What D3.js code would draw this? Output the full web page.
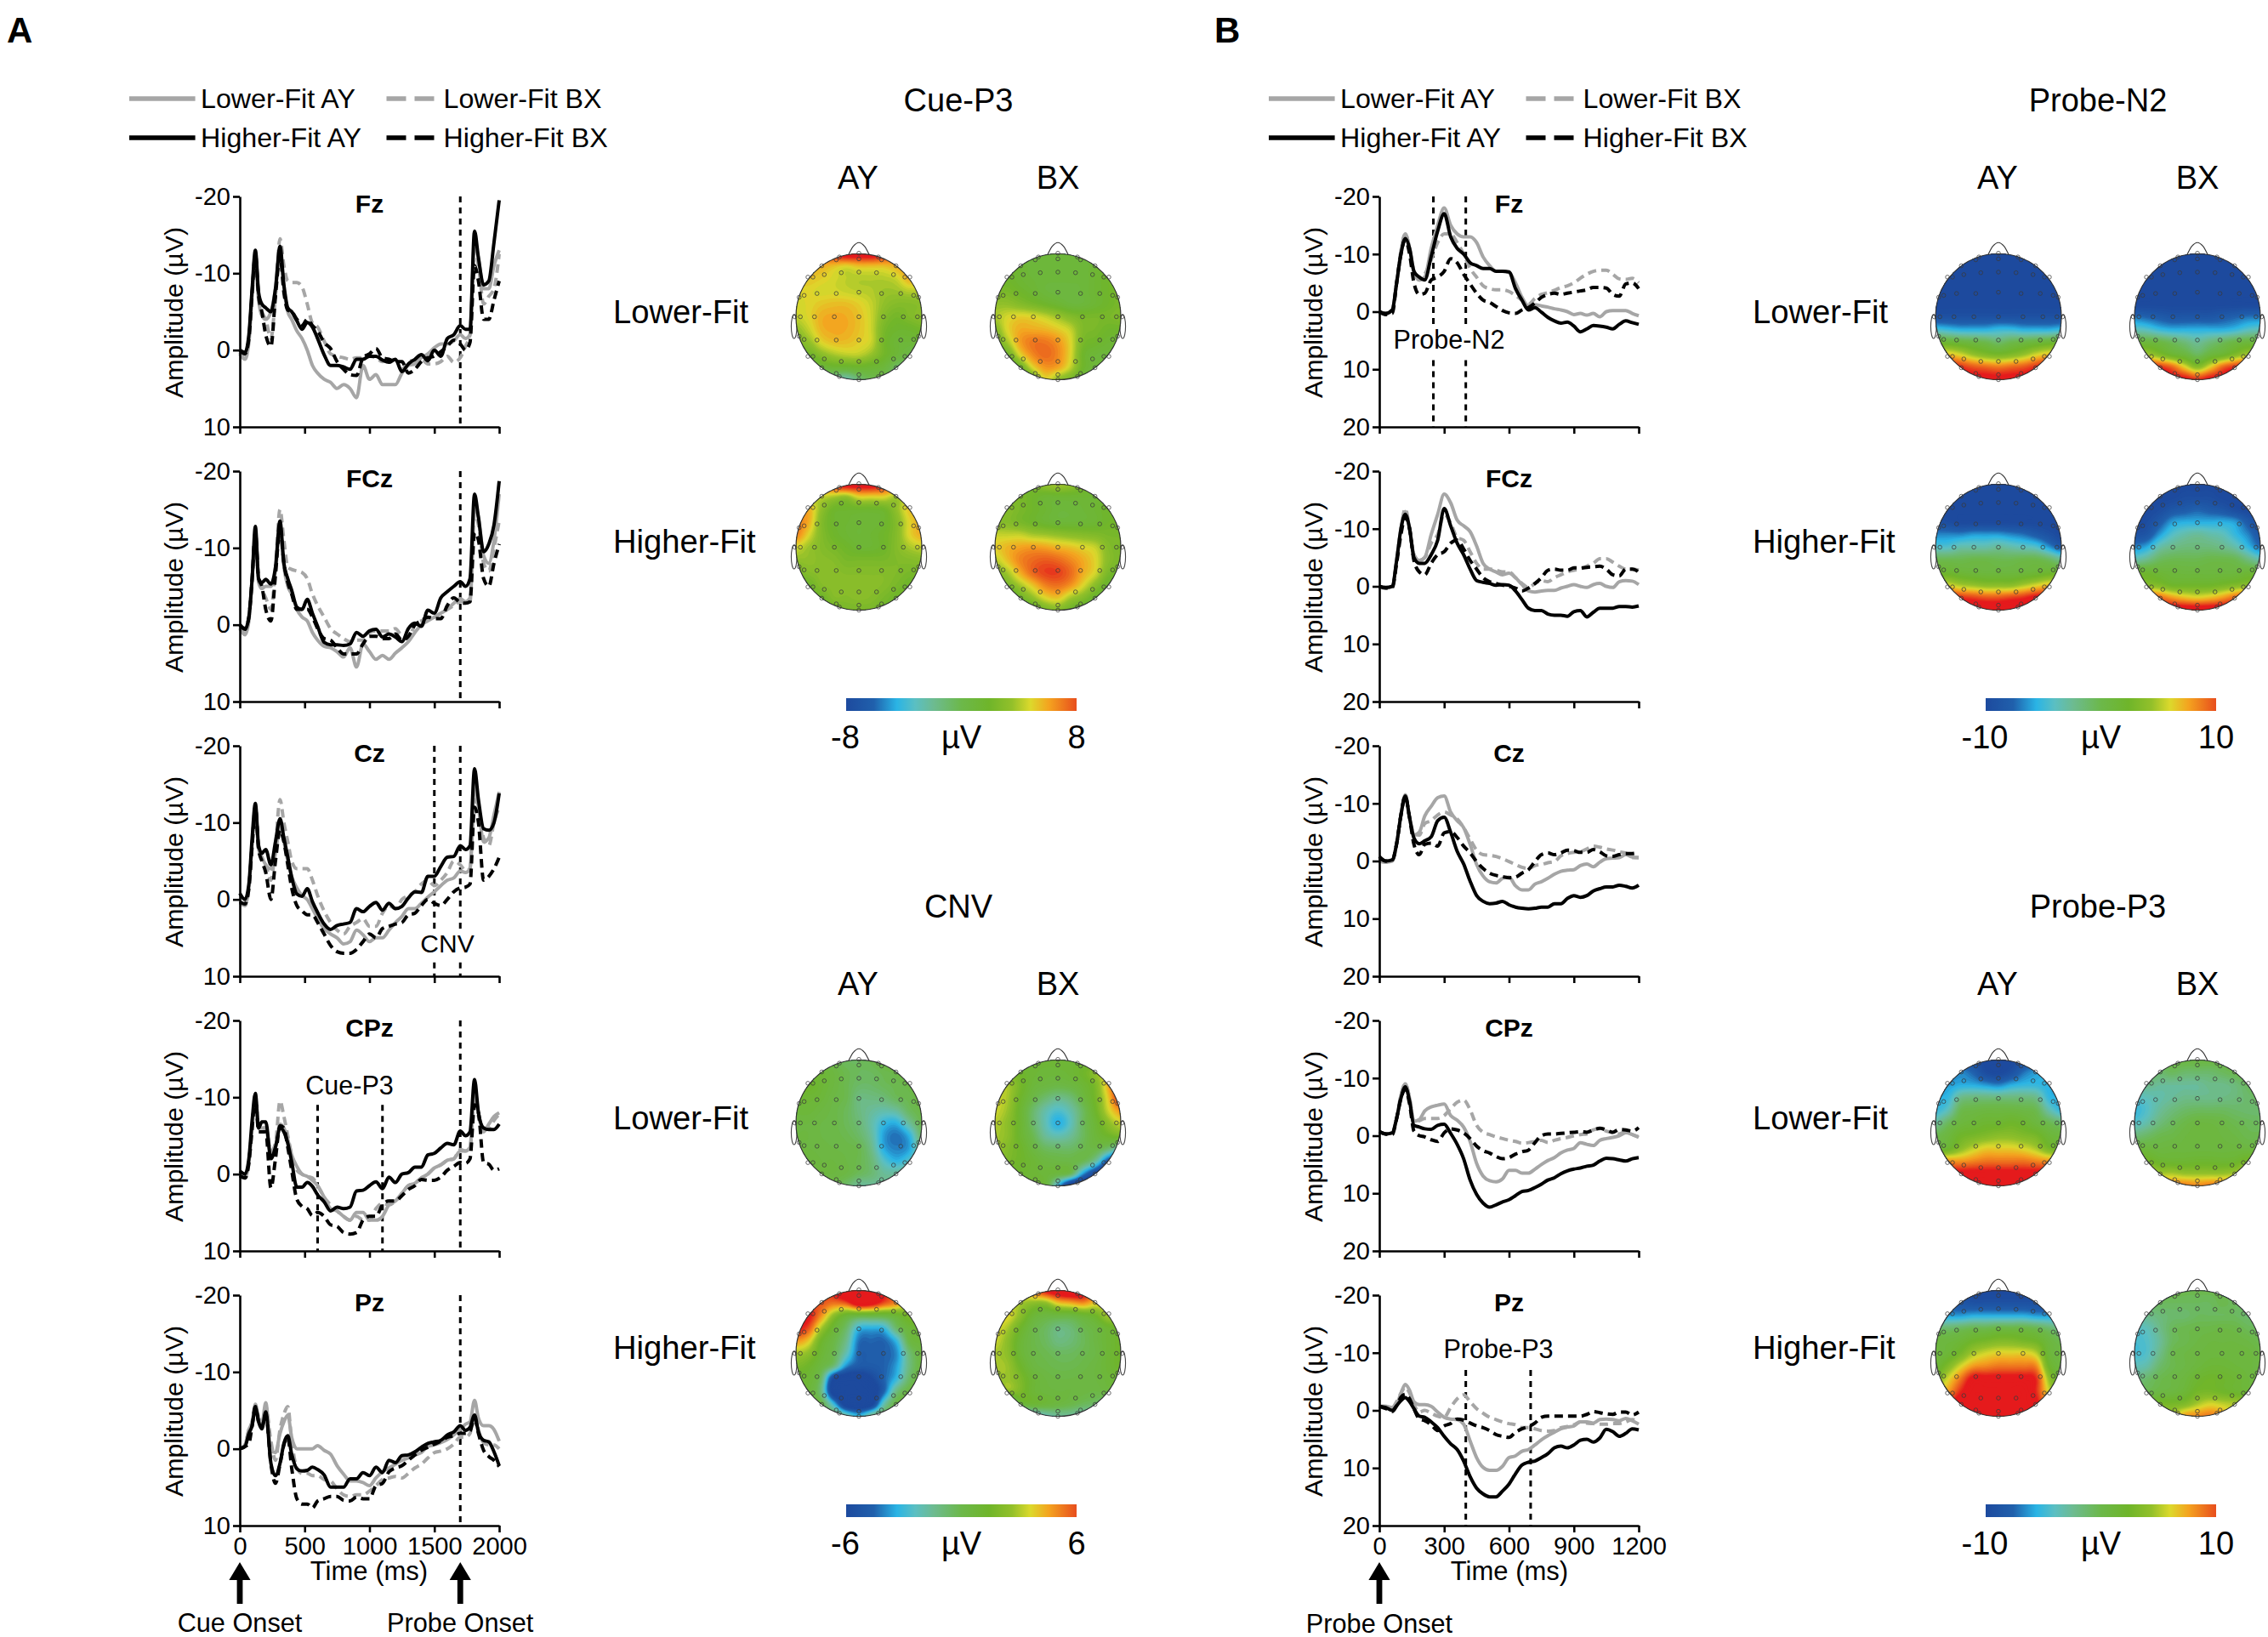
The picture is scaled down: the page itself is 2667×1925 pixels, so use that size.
<!DOCTYPE html>
<html>
<head>
<meta charset="utf-8">
<script src="https://cdn.jsdelivr.net/npm/d3@7/dist/d3.min.js"></script>
<style>
  body { margin: 0; background: #fff; }
  svg { display: block; }
  text { font-family: "Liberation Sans", Arial, sans-serif; fill: #000; }
  .axis path, .axis line { stroke: #000; stroke-width: 2.6; }
  .axis text { font-size: 29px; font-family: "Liberation Sans", Arial, sans-serif; }
</style>
</head>
<body>
<svg width="2667" height="1925"></svg>
<script>
"use strict";

// ---- waveform data (uV, negative up) ----
const cueTimes = [0,40,70,95,120,145,170,200,240,275,310,340,370,400,440,480,520,560,600,650,700,750,800,850,900,950,1000,1050,1100,1150,1200,1250,1300,1350,1400,1450,1500,1550,1600,1650,1700,1740,1775,1810,1840,1880,1920,1960,2000];
const probeTimes = [0,30,60,80,100,120,140,160,185,210,240,270,300,330,360,390,420,450,480,510,540,570,600,630,660,690,720,750,780,810,840,870,900,930,960,990,1020,1050,1080,1110,1140,1170,1200];

const cueFzLowerAY = [.5,1.2,-1,-7,-11.5,-6.5,-4.5,-4,-5,-8, -13,-8,-5,-4,-2.5,-1.5,0,2,3,3.8, 4.2,5,4.5,5,6.2,2,3.8,3.2,4.5,4.5, 4.5,3,2,1.8,1,.5,-.3,-.8,-.8,-1.2, -2,-1.5,-2,-14,-12,-8,-8,-11,-13];
const cueFzLowerBX = [.3,1,-1.5,-7.5,-12,-7,-5,-4,-1.5,-7, -14.5,-11,-9,-8.8,-8.8,-8.2,-6,-3.5,-3,-1.2, .5,.8,1,1.2,1,1,.8,1,1.5,1.2, 1.3,2.5,1.5,1.3,1.2,1.8,1.8,1.5,.8,1.6, 1,-.5,-2,-13,-11,-6,-7,-8,-12.5];
const cueFzHigherAY = [0,.3,-2,-8,-13,-7.5,-6,-5.5,-5,-8, -13.5,-8.5,-5.5,-5,-3.8,-2.7,-3.6,-3,-1.5,.6, 2,2,2.2,2.5,1.2,1.2,.8,.8,1.3,1.6, 1.2,2.8,1.8,1.2,.6,1.4,0,.8,-1.5,-2, -3.2,-2.7,-2.7,-15.5,-12,-8.5,-9,-14,-19.5];
const cueFzHigherBX = [0,.5,-1.5,-7.5,-12.5,-7,-5,-2,-.5,-7, -12.2,-7.5,-5.2,-5,-4,-3.2,-4,-3.2,-2.5,-1, -.2,1.5,2.5,3.2,3.3,1,.5,-.2,1,1.2, 1.5,1.5,3,2.5,1.5,1,.8,.2,-.5,-1.3, -.8,0,-1,-11,-9,-4,-4,-6.5,-9];

const cueFCzLowerAY = [.5,1.3,-.5,-6,-11.5,-5.5,-4.7,-5,-5,-7, -12.5,-7.5,-5,-4,-2,-1,-.5,1,2,2.8, 3,3.5,4.2,3,5.5,2.5,3.5,4.5,4,4.5, 3.7,3,2.2,1,0,-.5,-1,-1.5,-2,-2.8, -3.4,-3,-3.5,-15.5,-14,-9,-8,-11,-17];
const cueFCzLowerBX = [.3,1,-1,-6,-11.5,-6,-4.7,-3.5,-2,-7.5, -15,-11,-7.5,-7.2,-7,-6.8,-6,-4,-2.5,-1, .5,1.2,1.8,2.2,2,2,1,.8,.8,.8, .5,1.5,1.8,0,-.5,-.8,-1,-1.5,-2,-2.5, -3,-3,-3,-14.5,-13,-8,-7,-10,-13.5];
const cueFCzHigherAY = [0,.6,-1,-6,-12.8,-6,-5.5,-5.9,-5.3,-7.5, -13.5,-8,-6,-4.5,-2.3,-2,-3.3,-1.5,.2,2.3, 2.6,2.6,2.7,2.5,1,1.5,.8,.6,1.6,1.2, 1.6,2.2,.5,-.2,.2,-1.9,-1.5,-3.5,-4.3,-5, -5.6,-5,-6,-17,-14,-9.5,-10.5,-13,-18.7];
const cueFCzHigherBX = [0,.5,-1,-6,-12,-6,-5,-2,-.5,-6.5, -12.5,-8,-5.5,-4,-2,-2,-2,-1,.5,1.8, 2,3,3.8,3.8,3.8,2.5,1.5,1.5,1.8,1.8, 1.2,2,1.5,0,-.5,-1,-.8,-.8,-2.5,-3.5, -2.9,-2.8,-3,-12,-11,-6,-5,-8,-10.5];

const cueCzLowerAY = [.4,.6,-1.5,-7,-12,-6.5,-5.5,-4.5,-4,-6, -9.5,-7.5,-5,-3,-1.5,-.5,0,1.2,2.5,3.8, 4.5,5,5.8,5.5,4,4.6,5.5,5,5,4, 3,2.2,1.2,1.2,.5,-.3,-1,-1.8,-2.5,-2.8, -3.7,-3.5,-4,-15,-12,-7.5,-8,-11,-14];
const cueCzLowerBX = [.5,.8,-1.5,-7,-12,-6.5,-5.5,-4.5,-2.5,-7, -13,-10,-7.5,-5,-4,-4,-4,-2.5,-.5,1.5, 3,4,4.5,3.5,3,2.5,3.5,3.5,1.8,.8, 1.2,0,-.5,-1,-2,-2.5,-1.8,-2.5,-3.5,-5, -4.5,-3.8,-4,-13,-12,-8,-7,-10,-12];
const cueCzHigherAY = [-.8,0,-2,-8,-12.5,-7,-6,-6.5,-4.5,-7.5, -10.5,-8,-5.5,-2.9,-.7,-.4,-1.4,.3,1.7,3.2, 3.9,3.4,3.2,3,1.2,1.6,.9,.4,1.4,.5, 1.2,.9,-.2,-1,-.9,-3,-3,-4.3,-5.5,-5.6, -7,-6.5,-7,-17,-13,-9.2,-9,-10,-13.8];
const cueCzHigherBX = [.3,.6,-1.5,-7,-12,-6.5,-5,-3.5,0,-5, -9,-7.5,-4.5,-1.5,.8,1.5,2,2,3,4.5, 6,6.8,7,7,6.5,5.5,4.5,5,3.8,3.5, 3.2,3,2,1.8,.8,0,.5,.8,0,-1, -1.5,-1.6,-2,-12,-10,-2.5,-3,-4,-5.5];

const cueCPzLowerAY = [.2,.5,-1.5,-6,-10,-6,-6,-6,-2.5,-3.5, -6.5,-6,-4.5,-2.5,-1,0,.3,.8,1.5,3, 4.5,4.8,5.5,6,5,5,6,6,5.5,4, 3.5,2.5,1.5,1.2,.5,0,-.8,-1.2,-1.8,-2, -3,-3,-3.5,-11,-8,-5.5,-6.5,-7.5,-8];
const cueCPzLowerBX = [.2,.5,-1.5,-6,-10,-6,-6,-6,-3,-4, -9.5,-7.5,-5,-2.5,-.5,0,.3,.5,1.5,3, 4,4.8,5.5,6,5.5,6,6,4.5,3.8,4, 3.5,2.5,1.5,1.2,.5,0,-.8,-1.2,-1.8,-2, -3.2,-3,-3.3,-10,-7.5,-6,-6,-7,-7.8];
const cueCPzHigherAY = [-.4,0,-2,-7,-10.5,-6,-6.8,-6.8,-2,-3.5, -6,-5.5,-4,-1.6,1.7,1.7,1.1,1.6,2.7,3.6, 4.8,4.3,4.5,4.3,2.2,2.1,1.5,1,1.9,.4, 1.1,0,-.2,-.9,-.9,-2.5,-2.7,-3.4,-4,-3.8, -5.6,-5,-5.5,-12.3,-8,-6,-5.8,-5.8,-6.5];
const cueCPzHigherBX = [.2,.5,-1.5,-6,-10,-5.5,-5.5,-5.5,1.8,-2, -6.3,-6,-3.5,-.5,3.3,4.2,4.5,5.4,5,5.5, 6.6,6.8,7.6,7.8,7.6,6,5.5,5.5,4,3.5, 3.5,2.8,2,1.5,.7,.8,.8,.4,-.5,-1, -1.5,-1.4,-2,-9,-8,-1.5,-1.3,-.5,-.7];

const cuePzLowerAY = [0,-.5,-2.5,-3.5,-5.8,-4,-3.3,-6,.2,.5, -2,-3.5,-4.4,-1.5,0,0,0,0,-.4,.2, .7,2.2,3.3,4.2,4.2,4.4,4.8,3.8,3,2.5, 2,1.5,1.2,.8,.5,-.3,-.5,-.8,-1.2,-1.8, -2.5,-3.2,-3.5,-6.3,-4,-3,-3,-2.5,-1];
const cuePzLowerBX = [0,-.5,-2.5,-3.5,-5.5,-4,-3,-5.5,-1,1.5, -2.5,-4.5,-5.5,-1,2.5,3.2,3.2,3.5,3.5,4, 4.2,5.2,6,6.2,6,6,5.5,4.8,4,3.8, 3.6,3.8,3.2,2.5,2,1.2,.5,.3,0,-.6, -1.5,-1.5,-2,-4.8,-2.5,-.8,-.5,-.5,0];
const cuePzHigherAY = [0,-.3,-2,-3,-5.4,-3.5,-2.6,-4.8,1.9,3.5, 1.9,-.7,-1.7,.7,2.6,2.9,2.8,2.4,2.7,3.4, 5,5,5,3.9,3.9,3.1,3.5,2.4,3.1,1.5, 1.8,.9,.8,.4,-.2,-.7,-.9,-1.1,-1.8,-2.2, -3,-2.4,-2.8,-4.4,-2.2,-1.1,-.9,.4,2.2];
const cuePzHigherBX = [0,-.3,-.7,-3,-5.5,-3.5,-2.8,-4.5,2,4.5, 2,-.5,-1.5,2.5,6.5,7.2,7.2,7.7,6.8,6.5, 6.2,6.2,6.7,6.8,6.3,6.5,6.5,4.8,4.5,3, 2.5,2.2,1.5,.8,.2,-.2,-.6,-1,-1.5,-1.7, -2,-2,-2.3,-4,-2,.2,1,1.5,2.3];

const probeFzLowerAY = [0,.4,-.3,-5,-10.5,-13.5,-11,-7,-5.5,-6, -11,-15,-18,-15,-13.5, -13,-13,-12,-9.5,-8, -7,-7,-6.8,-5,-2.5, -1,-1.2,-1,-.8,-.5, -.3,0,.5,.3,.6, .3,.9,0,-.2,-.2, -.2,.3,.7];
const probeFzLowerBX = [0,.3,-.3,-5,-10.5,-13.5,-11,-7,-5.5,-6.5, -9,-12,-13.5,-13.5,-12, -10,-7.5,-6,-4.5,-4, -3.8,-3.8,-3.5,-2.8,-2, -1.3,-2.3,-3,-3.3,-3.7, -4.2,-4.5,-5,-5.8,-6.5, -7,-7.2,-7.2,-6.5,-5.7, -5.6,-5.8,-5];
const probeFzHigherAY = [0,.3,-.3,-5,-10,-12.7,-11,-7,-6,-5.5, -9.6,-14,-17,-13,-11, -10,-8.5,-8,-7.5,-7.5, -7,-7,-6.9,-4,-2, -.3,-.7,.1,1,1.6, 2,1.8,2.5,3.5,3, 2.4,2.5,2.7,3,2.2, 1.6,1.9,2.2];
const probeFzHigherBX = [0,.5,.3,-5,-10,-12.5,-10,-5,-3,-3.2, -5.5,-6,-7,-9.2,-8.5, -6.5,-4.8,-3.2,-2,-1.6, -.9,-.2,.2,.3,-.3, -.7,-1.5,-2.5,-3,-3.2, -3,-3.2,-3.4,-3.6,-3.8, -4.2,-4.2,-4.1,-3,-2.7, -4.8,-5,-4];

const probeFCzLowerAY = [.2,.3,0,-4.5,-10,-13,-10,-5.5,-4.5,-5, -9,-12.5,-16,-14.5,-11.5, -10.5,-9.5,-7,-4,-3, -2.5,-2,-2.3,-1.5,-.3, .8,1,.8,.7,.7, .3,0,-.3,0,.2, -.3,-.5,0,.2,-.8, -1,-.9,-.3];
const probeFCzLowerBX = [.2,.3,0,-4.5,-10,-13.5,-10,-5.5,-4.5,-5, -7.5,-9,-12.5,-11,-8.5, -8,-6,-4,-3,-3, -2.8,-2.5,-2.5,-1.5,-.5, .2,-.5,-1,-.8,-1.5, -2,-2.5,-2.8,-3,-3.5, -4,-4.8,-4.8,-4.2,-3.5, -3,-3,-2.8];
const probeFCzHigherAY = [0,.2,0,-4.5,-10,-12.5,-10,-5,-4,-4, -5.5,-8,-13.5,-10.5,-7.5, -5.5,-3,-1,-.7,-.5, -.2,-.3,-.2,.8,2.3, 3.8,4.2,4.2,4.8,5, 5,5.2,4.4,4.2,5.3, 4.5,3.8,3.8,3.8,3.5, 3.5,3.6,3.4];
const probeFCzHigherBX = [0,.3,.2,-4,-9,-12,-10,-4.5,-2.5,-2, -4,-5.5,-6,-7.5,-8, -6.5,-4.5,-3,-1.5,-.8, -.5,-.2,0,.3,.8, .3,-.5,-1.5,-2.8,-3, -2.8,-2.8,-3.2,-3.2,-3.3, -3.4,-3.5,-3,-2,-1.8, -3,-3,-2.5];

const probeCzLowerAY = [0,.2,0,-3,-8,-11.5,-7.5,-4.5,-5,-7.8, -9.5,-11,-11.3,-8.5,-7, -5.8,-2.9,.6,2.6,3.6, 3.8,3,2.8,4.3,5, 5,4,3.6,3,2.3, 1.8,1.6,1.5,.8,.5, 1,.2,-.4,-.5,-.6, -1.1,-.7,-.6];
const probeCzLowerBX = [0,.2,0,-3,-8,-11.5,-7.5,-4.8,-4.5,-6.5, -7,-8,-8.5,-8,-7.3, -5.8,-3.8,-1.9,-1.1,-1, -.8,-.4,.1,.6,1.1, 1.3,.8,.6,.3,.1, -.9,-1.3,-1.5,-1.6,-2.1, -2.6,-2.4,-2.1,-1.9,-1.6, -1.4,-.6,-.6];
const probeCzHigherAY = [-.8,0,-.2,-3,-8,-11.3,-7.5,-4,-3,-3.5, -4.2,-7,-7.6,-5,-1.7, .5,3.5,6,7,7.4, 7.3,7,7.6,8,8.2, 8.3,8.2,8,8,7.4, 7.4,6.5,6,6.3,6, 5.2,4.8,4.5,4.5,4.2, 4.4,4.7,4.2];
const probeCzHigherBX = [-.6,0,-.2,-3,-8,-11.2,-7.5,-2.9,-1.1,-2.9, -3.1,-2.6,-4.9,-5.1,-4.1, -2.6,-1.4,.1,1.3,2.1, 2.5,2.7,2.9,2.8,2.1, 1.5,.1,-1.1,-1.4,-1.1, -1.4,-1.9,-1.8,-1.5,-1.5, -2,-1.6,-.9,-.8,-1.1, -1.3,-1.3,-1.5];

const probeCPzLowerAY = [-.7,-.3,-.5,-3,-7,-9,-6.5,-2.5,-2.8,-4.3, -5,-5.3,-5.5,-3.5,-2.7, -1.5,1,4.8,7,7.8, 8,7.5,6,6,6.5, 6.5,5.8,5,4.3,3.8, 3,2.5,2.2,1.2,1.5, 1.7,.8,.5,.3,0, -.5,-.2,.3];
const probeCPzLowerBX = [-.7,-.3,-.5,-3,-7,-9,-6.5,-2.3,-2.6,-3, -3,-3,-3.5,-4.7,-5.8, -6.2,-4.5,-1.8,-.6,-.2, .2,.5,.8,1,1.3, 1.2,1,.8,1.2,.8, .5,.3,0,-.2,-.3, -1,-1.2,-.8,-.5,-.3, -.7,-.2,.2];
const probeCPzHigherAY = [-.7,-.3,-.5,-3,-6.5,-8.5,-6,-1.8,-1.5,-1.2, -1.1,-1.8,-2,-.4,1.5, 4,7.7,10.2,11.7,12.4, 12,11.5,11.1,10.4,9.7, 9.5,9,8.4,7.7,7.3, 6.6,6.1,5.8,5.6,5.3, 5.1,4.4,3.9,4,4.2, 4.4,4,3.8];
const probeCPzHigherBX = [-.7,-.3,-.2,-3,-6.5,-8,-5.5,-.8,0,.2, .7,1,-.5,-1.2,-1, -.5,.5,1.8,2.6,3, 3.6,4,3.8,3.2,2.8, 2.5,1.2,0,-.3,-.3, -.4,-.5,-.6,-.7,-.6, -1,-1.3,-1,-.6,-1.1, -1,-.8,-1.4];

const probePzLowerAY = [-.7,-.7,-.5,-1,-3,-4.5,-3.5,-1.5,-1,-1, -.7,.3,1.2,1.5,1.6, 2.4,5.3,8.2,9.9,10.4, 10.4,9.7,8.2,7.9,7.1, 6.8,6,5.1,4.4,3.8, 3.2,2.9,2.7,2,2, 2.2,1.6,1.5,1.6,1.8, 1.4,1.8,2.4];
const probePzLowerBX = [-.7,-.7,-.5,-1.5,-3,-4,-3,-1,.3,0, .5,1,1.2,-.5,-2, -2.7,-1.5,-.3,.5,1.2, 1.6,2,2.3,2.5,3, 3,3.2,3.5,3.6,3.5, 3,2.8,2.5,2,2.2, 2.3,2.4,2.4,2.3,2.3, 2,1.6,2];
const probePzHigherAY = [-.7,-.5,0,-.8,-1.7,-2.2,-1.5,-.3,1,1.2, 2,3,4.5,5.8,6.8, 8.8,11.5,13.5,14.5,15, 15,14,12.8,11,9.5, 9,8.8,8.2,7.5,6.5, 6.2,6.5,6,5.2,5, 5.5,4.8,3.3,3.7,4.5, 4,3.2,3.4];
const probePzHigherBX = [-.7,-.3,.2,-.8,-2.3,-2.8,-2,-.3,1.5,1.8, 2.5,3.5,2.7,2.3,1.5, 1.7,2.2,2.7,3,3.5, 4.2,4.5,4.7,3.8,3.2, 2.8,2.2,1.2,1,1, 1,1,1,1,.7, .2,.4,.6,.7,.3, .3,.8,.3];

const channels = ["Fz", "FCz", "Cz", "CPz", "Pz"];
const conditionNames = ["Lower-Fit AY", "Lower-Fit BX", "Higher-Fit AY", "Higher-Fit BX"];
const cueSeries = [
  [cueFzLowerAY, cueFzLowerBX, cueFzHigherAY, cueFzHigherBX],
  [cueFCzLowerAY, cueFCzLowerBX, cueFCzHigherAY, cueFCzHigherBX],
  [cueCzLowerAY, cueCzLowerBX, cueCzHigherAY, cueCzHigherBX],
  [cueCPzLowerAY, cueCPzLowerBX, cueCPzHigherAY, cueCPzHigherBX],
  [cuePzLowerAY, cuePzLowerBX, cuePzHigherAY, cuePzHigherBX]
];
const probeSeries = [
  [probeFzLowerAY, probeFzLowerBX, probeFzHigherAY, probeFzHigherBX],
  [probeFCzLowerAY, probeFCzLowerBX, probeFCzHigherAY, probeFCzHigherBX],
  [probeCzLowerAY, probeCzLowerBX, probeCzHigherAY, probeCzHigherBX],
  [probeCPzLowerAY, probeCPzLowerBX, probeCPzHigherAY, probeCPzHigherBX],
  [probePzLowerAY, probePzLowerBX, probePzHigherAY, probePzHigherBX]
];

// window markers per channel: [time, from uV, to uV]
const cueMarkers = [
  [[1700, -20, 10]],
  [[1700, -20, 10]],
  [[1500, -20, 3.9], [1500, 8.2, 10], [1700, -20, 3.9], [1700, 8.2, 10]],
  [[600, -9, 10], [1100, -9, 10], [1700, -20, 10]],
  [[1700, -20, 10]]
];
const probeMarkers = [
  [[250, -20, 2.8], [250, 8.4, 20], [400, -20, 2.8], [400, 8.4, 20]],
  [],
  [],
  [],
  [[400, -7, 20], [700, -7, 20]]
];

// ---- topographies: 11 x 11 samples top to bottom, left to right, in uV ----
const cueP3LowerAY = [
  [8,8,8,9,10,10,10,9,8,8,8],
  [6,6,6,5.5,5,5.5,5.5,5.5,6,7,7],
  [5.5,5.5,5.2,4.8,4.4,4.2,4.2,4.2,4.6,6,6],
  [5,5,4.8,4.8,4.6,4.4,4.2,3.8,3.8,4.2,4.2],
  [4.8,5,5.4,5.6,5.6,5.2,4.5,3.5,3,3,3.2],
  [4.5,5,5.9,6.1,6,5.5,4.6,3,2.3,2.8,3.2],
  [3.5,4.5,5.8,6.1,6,5.5,4.6,2.5,1.8,1.8,2.2],
  [2.8,3.5,5,5.6,5.6,5.2,4.6,2.3,1.3,1.2,1.2],
  [1.8,2,3.2,4,4.4,4.4,3.6,2.2,1.2,.3,0],
  [0,0,1,1.5,1.5,1.8,1.5,1,-.5,-1,-1],
  [-2,-2,-2,-2,-2.5,-1,0,0,-1,-2,-2]
];
const cueP3LowerBX = [
  [1,1,1,1,1,1,1,1,1,1,1],
  [2,2,1.5,1,1,1,1,1,1.5,2,2],
  [2,2,1.5,1.2,1,1,1,1,1.5,2,2],
  [2.5,2.5,2,1.5,1,.8,.8,1,1.5,2,2.5],
  [3.5,3.5,3,2.5,2,1.5,1,1,1.5,2,2.5],
  [4,4.8,5.2,5,4.5,3.8,3,2.5,2.5,2.5,2.8],
  [3,5,6,6,5.8,5.3,4.5,2.8,2.5,2,2],
  [2,4,6.3,7.2,7.2,6.5,5,2.5,2,1.5,1.5],
  [1,2,5,6.8,7.5,6.8,5,2,1.2,1,1],
  [0,0,2,5,6.5,6.2,4.5,2,1,.5,0],
  [-1,-1,0,2,5,3.5,2.5,1,0,-1,-1]
];
const cueP3HigherAY = [
  [8,8,8,9,10,10,10,9,8,8,8],
  [4.5,4.5,4.5,4,3.5,5,5,5,4,5.5,5.5],
  [6,6,3.5,2,1.8,1.8,1.8,2,3.5,5.5,6],
  [7,6,3,1.8,1.5,1.3,1.3,1.7,3,5,6],
  [7,5,3,2,1.5,1.2,1.5,2,3,5,6],
  [4.8,3.8,3,2.5,2,1.5,1.5,2,3,4,4.5],
  [3.5,3.5,3.2,3,2.5,2.5,2.5,2.5,2.8,3,3.2],
  [2.5,3,3.2,3.2,3,3,3,3,2.8,2.5,2.5],
  [2,2,3,3.2,3.3,3.3,3.2,3,2.5,2,2],
  [2,2,2,3,3,3.2,3,2.5,2,2,2],
  [2,2,2,2,2.5,2.5,2.5,2,2,2,2]
];
const cueP3HigherBX = [
  [2,2,2,2.5,3.5,4,3.5,2.5,2,2,2],
  [2.5,2.5,2.5,2,1.5,1.5,1.5,1.5,1.5,2,2],
  [3,3,2.5,2,1.5,1,1,1.2,1.5,2,2],
  [3,3,2.5,2,1.5,1.2,1.2,1.3,1.5,2,2],
  [4.5,4.5,4.5,4,3.8,3.5,3.2,3,2.8,2.5,2.5],
  [5.2,5.8,6.2,6.4,6.2,5.8,5.5,5,4.5,3,2.5],
  [4.3,5.6,6.9,7.5,7.8,7.5,6.8,6,5,3.2,2.5],
  [2.8,4,6,7.6,8.4,8.4,7.5,6,4.8,2.6,2],
  [1.2,2.5,4,5.5,7,7.4,6.6,5,3.2,1.5,1],
  [0,0,2,3.5,5,5.5,4,3,1.5,.5,0],
  [-1,-1,0,1,2.5,3,2,1,0,-1,-1]
];

const cnvLowerAY = [
  [.5,.5,.5,0,-.3,-.3,0,.5,.5,.5,.5],
  [1,1,1,.5,0,-.3,-.3,0,.2,.5,.5],
  [1.5,1.5,1,.5,0,-.5,-.5,-.2,0,.2,.5],
  [1,1,.8,.3,0,-1,-1,-.8,-.2,0,.3],
  [.8,.8,.5,.2,-.2,-1,-1.5,-1.8,-1.5,-.3,.2],
  [.5,.5,.3,.2,-.2,-.8,-1.8,-3,-3.2,-1.5,0],
  [.5,.5,.3,.2,0,-.5,-1.6,-3.6,-4.2,-3.2,-.5],
  [.5,.5,.4,.3,.2,0,-1.2,-3.4,-4,-3.5,-1],
  [.7,.7,.5,.5,.3,0,-.8,-2.4,-3.2,-2.4,-1],
  [.5,.5,.5,.5,.3,-.2,-.7,-1.5,-1.5,-1,-1],
  [.5,.5,.3,.2,-.5,-1.5,-1.5,-1.5,-1,-1,-1]
];
const cnvLowerBX = [
  [1,1,1,1,1,1,1,1,1,3,4],
  [2,2,1.5,1,.8,.8,1,1.5,2.5,4,6],
  [3,3,1.8,.8,.5,.3,.5,1,2,4.5,7],
  [3.5,3,1.5,.3,-.6,-1.2,-.8,.5,1.8,4,7],
  [3.5,2.8,1.2,-.5,-1.8,-2.5,-1.8,-.3,1.5,3.5,5],
  [3.2,2.5,1.2,-.5,-2,-3.3,-2.2,-.3,1,2.5,3.5],
  [3,2.5,1.2,0,-1.5,-2,-1.5,-.3,.8,1.5,2],
  [3,2.2,1.5,.5,-.3,-.5,-.5,0,.3,-.5,-2],
  [2.5,2,1.5,1,.5,.3,.2,0,-1.5,-5,-7],
  [2,1.5,1.2,1,.8,.6,0,-3.5,-6,-8,-8],
  [1.5,1.5,1,1,.8,-3,-7,-8,-8,-8,-8]
];
const cnvHigherAY = [
  [5,5,6,7,9,10,9,7,5,5,5],
  [6,6,6,5.5,6,8,7.5,6,5,3,3],
  [7,7,5,2.5,1,.5,.5,.5,1,2,2.5],
  [7,6,3,1,-.5,-3,-3.3,-3,-.5,.8,1],
  [5,4,1.5,.3,-1.2,-4.2,-4.4,-4.4,-3,.3,.8],
  [3,2.5,1,0,-2,-4.5,-4.6,-4.5,-3.8,-.8,.5],
  [2,1.5,.5,-.8,-3.8,-4.8,-4.8,-4.5,-3.5,-1,.5],
  [1,1,-.5,-6,-7,-7,-6,-4.5,-3,-.5,.5],
  [.8,.8,-1,-7,-7.5,-7.5,-7,-4.5,-1,.3,.5],
  [.5,.5,.2,-3,-7,-7.5,-6.5,-2,.3,.5,.5],
  [0,0,0,0,-1.5,-3,-1,0,.3,.5,.5]
];
const cnvHigherBX = [
  [3,3,4,5.5,7,8,8.5,8,6,5,4],
  [3.5,3.5,3,2.5,2.5,4,4.5,5,4,4,4],
  [3.8,3.8,2.5,1,.5,.5,.5,1,1.5,3,3],
  [3.8,3,1.5,.3,-.3,-1,-.8,0,.5,1.2,1.5],
  [3.5,2.5,1,.2,-.3,-1,-.8,-.2,.4,1,1.5],
  [3,2.5,1,.3,0,-.3,-.3,0,.3,1,1.5],
  [3,2.8,1.5,.5,.2,0,0,.2,.5,1,1.5],
  [2.5,2.8,2,1,.5,.3,.3,.4,.5,.8,1],
  [1,2.5,2,1,.6,.5,.5,.4,.3,.5,.5],
  [-3,-3,.5,1,.8,.5,.2,-.2,-.5,-1,-1],
  [-5,-5,-5,-3,-2,-1.5,-1.5,-2,-2,-2,-2]
];

const probeN2LowerAY = [
  [-10,-10,-10,-10,-10,-10,-10,-10,-10,-10,-10],
  [-10,-10,-10,-10,-10,-10,-10,-10,-10,-10,-10],
  [-10,-10,-10,-10,-10,-10,-10,-10,-10,-10,-10],
  [-10,-10,-10,-10,-10,-10,-10,-10,-10,-10,-10],
  [-10,-10,-10,-10,-10,-10,-10,-10,-10,-10,-10],
  [-9,-9,-9,-9,-9,-9,-9,-9,-9,-9,-9],
  [-4.5,-5,-5.5,-5.5,-5.5,-5,-5,-5.5,-5.5,-5.5,-5],
  [2,1.5,1,.5,0,-1,0,.5,1,1.5,2],
  [7,7,6,4.5,3.5,3,3.5,4.5,6,7,7],
  [12,12,11,10,9.5,9,9.5,10,11,12,12],
  [12,12,12,12,12,12,12,12,12,12,12]
];
const probeN2LowerBX = [
  [-10,-10,-10,-10,-10,-10,-10,-10,-10,-10,-10],
  [-10,-10,-10,-10,-10,-10,-10,-10,-10,-10,-10],
  [-10,-10,-10,-10,-10,-10,-10,-10,-10,-10,-10],
  [-10,-10,-10,-10,-10,-10,-10,-10,-10,-10,-10],
  [-10,-10,-10,-10,-10,-10,-10,-10,-10,-10,-10],
  [-7,-7.5,-8,-8.5,-8.5,-8.5,-8.5,-8,-7.5,-7,-7],
  [-3.5,-4,-5,-5.5,-5.5,-5.5,-5.5,-5.5,-5,-4,-3.5],
  [1,1,.5,-.5,-1.5,-2.5,-1.5,-.5,.5,1,1],
  [5,5,3.5,2,1,-.5,1,2,3.5,5,5],
  [12,12,11,9.5,6.5,4,6.5,9.5,11,12,12],
  [13,13,13,12,12,11,12,12,13,13,13]
];
const probeN2HigherAY = [
  [-10,-10,-10,-10,-10,-10,-10,-10,-10,-10,-10],
  [-10,-10,-10,-10,-10,-10,-10,-10,-10,-10,-10],
  [-10,-10,-10,-10,-10,-10,-10,-10,-10,-10,-10],
  [-9,-9.5,-10,-10,-10,-10,-10,-10,-10,-10,-10],
  [-6.5,-6.5,-6.5,-6,-6,-6,-6.5,-7,-8,-9,-10],
  [-4,-4,-3,-3,-3,-2.5,-3,-3.5,-4,-6,-8],
  [0,0,0,.3,.3,0,0,.3,.3,-.5,-2],
  [2,2,1.5,1.2,1,1,1,1.2,1.5,2,2],
  [6,6,5,4.5,4,4,4,5,6,7,7],
  [12,12,11,10.5,10,10,10.5,11,12,12,12],
  [13,13,13,13,13,13,13,13,13,13,13]
];
const probeN2HigherBX = [
  [-10,-10,-10,-10,-10,-10,-10,-10,-10,-10,-10],
  [-10,-10,-10,-10,-9.5,-9.5,-9.5,-10,-10,-10,-10],
  [-10,-10,-9.5,-8.5,-8,-7.5,-8,-8.5,-9.5,-10,-10],
  [-10,-9.5,-8,-6,-5.5,-5.5,-5.5,-5.5,-6,-8,-9.5],
  [-9,-8.5,-6,-4,-3,-2.5,-3,-3.5,-5,-6.5,-8.5],
  [-6.5,-5.5,-3,-2,-1.5,-1.5,-1.5,-2,-3,-5,-7],
  [-3,-2,-.5,0,0,0,.3,.3,0,-1.5,-3],
  [2,2,1.5,1.2,1,1,1,1,1,1.5,1.5],
  [4,4,3.5,2.5,2.5,2.5,2.5,3,3.5,4,4],
  [12,11,9.5,8,7,6.5,7,8,9.5,11,12],
  [13,13,13,13,13,13,13,13,13,13,13]
];

const probeP3LowerAY = [
  [-8,-8,-8,-9,-10,-10,-10,-9,-8,-8,-8],
  [-7,-7,-6.5,-7.5,-9.5,-10,-9,-7,-6,-5.5,-5.5],
  [-6,-6,-5.5,-5.5,-6,-6.5,-5.5,-5,-5,-5.5,-6],
  [-5.5,-5,-2,-1.5,-1.5,-1.5,-1.5,-1.5,-2,-5,-5.5],
  [-5,-3.5,0,.5,.8,.8,.8,.5,0,-3,-5],
  [-2.5,-.5,1,1.5,2,2,2.5,2,1,0,-1],
  [0,1,2.5,3,3.5,4,4,3.5,3,1.5,1],
  [1,2,4,5.5,6.5,6.5,6.5,6,5,3,2],
  [8,8,8,8.5,9,9,9,9,8.5,8,8],
  [12,12,12,12,12,12,12,12,12,12,12],
  [13,13,13,13,13,13,13,13,13,13,13]
];
const probeP3LowerBX = [
  [0,0,0,.5,.5,.5,.5,.5,0,0,0],
  [0,0,-1,-.5,-1,-1,-1,-.5,0,.5,.5],
  [-2,-2,-2.5,-2.5,-2.5,-2.5,-2,-2,-1.5,-.5,0],
  [-4,-3.5,-3,-2.5,-2,-2,-2,-1.8,-1.5,-1,-.5],
  [-5,-4,-2.5,-1.5,-.8,-.5,-.5,-.5,-.8,-1,-1],
  [-4,-3,-1.5,-.5,.3,.8,.8,.5,0,-.3,-.5],
  [-1.5,-.8,0,.3,.8,1,1,.8,.5,0,0],
  [1,1,.8,1,1,1,1,1,1,.8,.8],
  [3,3,2,1.8,1.8,2,2,1.8,2,3,3],
  [6,6,5,5,4.5,4.5,4.5,4.5,5,6,6],
  [9,9,9,9,9,8.5,9,9,9,9,9]
];
const probeP3HigherAY = [
  [-8,-8,-9,-10,-10,-10,-10,-10,-9,-8,-8],
  [-8,-8,-8.5,-9,-9,-9,-9,-9,-9,-9,-9],
  [-6,-6,-6,-5.5,-5.5,-5.5,-5.5,-5.5,-6,-6,-6],
  [-1,-1,-.5,0,0,.5,.5,.5,0,-1,-2],
  [1,1,1.5,2.5,3,3.5,3.5,3,2.5,1,0],
  [1,1.5,3,5,6,6.5,6.5,6.5,5.5,1.5,.8],
  [1.5,3.5,6,8,8.5,9,9,9,8.5,2.5,1],
  [3,6,9,12,12,12,12,12,11,4.5,1.5],
  [7,8,11,13,13,13,13,13,11,6,3],
  [11,11,13,13,13,13,13,13,12,8,8],
  [13,13,13,13,13,13,13,13,13,13,13]
];
const probeP3HigherBX = [
  [.5,.5,.3,.3,0,0,0,0,-1,-1,-1],
  [-.5,-.5,-.5,-.5,-.5,-.5,-.5,0,-.5,-1,-1],
  [-2,-2,-1.5,-1,-1,-.5,-.5,-.5,-.5,-1,-1],
  [-4,-3.5,-2,-.5,0,.2,.3,.5,.3,-.3,-.5],
  [-4.5,-4,-2.5,-.5,0,.5,.8,.8,.8,.5,0],
  [-4.5,-4,-2,0,.5,.8,1,1,1,1,.5],
  [-3.5,-3,-1,0,.5,1,1.5,1.5,1.2,1,.5],
  [-2,-1,0,.5,1,2,2.5,2.2,1.8,1.2,.8],
  [0,0,.5,.8,1.5,2.8,3,2.5,2,1.5,1],
  [2.5,2.5,3,3,3.5,5,6,5.5,5,4,4],
  [5,5,5,5,8,8.5,9,8,5,5,5]
];

// colour bar stops as a share of the bar, the last one is what the maps clip to
const colorStops = [0, .12, .22, .3, .38, .5, .62, .72, .8, .88, 1, 1.06];
const colorValues = ["#1d4a9e","#2060ac","#2ab4e5","#5bbfc2","#6dbb90","#6cb84a","#6fb52a","#93c02a","#dcd92c","#f4a31f","#e84e1d","#e51a1c"];

// electrode layout on the unit head, right half, mirrored below
const midlineSites = [1.01, .92, .71, .39, 0, -.37, -.71, -.92, -1];
const sideSites = [[.31,.95],[.36,.905],[.59,.81],[.55,.67],[.28,.7],[.81,.63],[.73,.63],[.36,.37],[.665,.37],[.87,.34],[.95,.31],
  [.39,0],[.706,0],[.93,0],[1.02,0],[.36,-.37],[.665,-.37],[.87,-.36],[.95,-.31],[.81,-.63],[.73,-.63],[.55,-.67],[.28,-.71],[.59,-.81],[.36,-.9],[.31,-.95]];

const svg = d3.select("svg");
const conditionStyle = [
  { color: "#a6a6a6", dash: null },
  { color: "#a6a6a6", dash: "10 6" },
  { color: "#000", dash: null },
  { color: "#000", dash: "10 6" }
];
const drawOrder = [0, 1, 3, 2];

const addText = (x, y, str, size, anchor = "middle", weight = "normal") =>
  svg.append("text")
    .attr("x", x).attr("y", y)
    .attr("text-anchor", anchor)
    .attr("font-size", size)
    .attr("font-weight", weight)
    .text(str);

const drawLegend = shift => {
  const legendX = [[152, 229.6, 236], [454.5, 511, 521.5]];
  const legendY = [116, 162];
  conditionNames.forEach((name, i) => {
    const col = i % 2, row = i < 2 ? 0 : 1;
    svg.append("line")
      .attr("x1", shift + legendX[col][0]).attr("x2", shift + legendX[col][1])
      .attr("y1", legendY[row]).attr("y2", legendY[row])
      .attr("stroke", conditionStyle[i].color)
      .attr("stroke-width", 5.5)
      .attr("stroke-dasharray", conditionStyle[i].dash ? "23 10" : null);
    addText(shift + legendX[col][2], legendY[row] + 11, name, 32.2, "start");
  });
};

const plotTop = i => 231 + 323 * i;
const plotHeight = 271;

const drawErpColumn = (shift, times, series, markers, xTicks, yDomain, yTicks) => {
  const x = d3.scaleLinear().domain(d3.extent(xTicks)).range([282 + shift, 587 + shift]);
  channels.forEach((name, i) => {
    const top = plotTop(i);
    const y = d3.scaleLinear().domain(yDomain).range([top, top + plotHeight]);
    const line = d3.line()
      .x(d => x(d[0]))
      .y(d => y(d[1]))
      .curve(d3.curveMonotoneX);

    markers[i].forEach(m => {
      svg.append("line")
        .attr("x1", x(m[0])).attr("x2", x(m[0]))
        .attr("y1", y(m[1])).attr("y2", y(m[2]))
        .attr("stroke", "#000").attr("stroke-width", 3)
        .attr("stroke-dasharray", "7 6");
    });

    drawOrder.forEach(k => {
      svg.append("path")
        .datum(times.map((t, j) => [t, series[i][k][j]]))
        .attr("fill", "none")
        .attr("stroke", conditionStyle[k].color)
        .attr("stroke-width", 4)
        .attr("stroke-linejoin", "round")
        .attr("stroke-dasharray", conditionStyle[k].dash)
        .attr("d", line);
    });

    const yAxis = d3.axisLeft(y).tickValues(yTicks).tickFormat(d => String(d)).tickSize(8).tickSizeOuter(0).tickPadding(3);
    svg.append("g").attr("class", "axis").attr("transform", `translate(${282 + shift},0)`).call(yAxis);

    const xAxis = d3.axisBottom(x).tickValues(xTicks).tickSize(8).tickSizeOuter(0).tickPadding(5)
      .tickFormat(i === channels.length - 1 ? d => String(d) : "");
    svg.append("g").attr("class", "axis").attr("transform", `translate(0,${top + plotHeight})`).call(xAxis);

    addText(434.5 + shift, top + 19, name, 30, "middle", "bold");
    svg.append("text")
      .attr("transform", `translate(${215 + shift},${top + plotHeight / 2 + 1}) rotate(-90)`)
      .attr("text-anchor", "middle")
      .attr("font-size", 30.3)
      .text("Amplitude (µV)");
  });
  return x;
};

const arrow = (x, tip) =>
  svg.append("path")
    .attr("transform", `translate(${x},${tip})`)
    .attr("d", "M0 0L12.6 21L3.4 21L3.4 49L-3.4 49L-3.4 21L-12.6 21Z")
    .attr("fill", "#000");

// Catmull-Rom resample of the read-off samples so contours come out smooth
const resample = (grid, per) => {
  const n = grid.length, size = (n - 1) * per + 1;
  const at = (r, c) => grid[Math.max(0, Math.min(n - 1, r))][Math.max(0, Math.min(n - 1, c))];
  const cr = (a, b, c, d, t) =>
    .5 * (2 * b + (c - a) * t + (2 * a - 5 * b + 4 * c - d) * t * t + (3 * b - a - 3 * c + d) * t * t * t);
  const out = new Float64Array(size * size);
  for (let j = 0; j < size; j++) {
    const r = Math.min(n - 2, Math.floor(j / per)), tr = j / per - r;
    for (let i = 0; i < size; i++) {
      const c = Math.min(n - 2, Math.floor(i / per)), tc = i / per - c;
      const rows = [-1, 0, 1, 2].map(k =>
        cr(at(r + k, c - 1), at(r + k, c), at(r + k, c + 1), at(r + k, c + 2), tc));
      out[j * size + i] = cr(rows[0], rows[1], rows[2], rows[3], tr);
    }
  }
  return { values: out, size };
};

let clipCount = 0;
const headRadius = 74;
const drawHead = (cx, cy, grid, maxVal) => {
  const color = d3.scaleLinear()
    .domain(colorStops.map(f => -maxVal + 2 * maxVal * f))
    .range(colorValues)
    .clamp(true);
  const per = 8;
  const { values, size } = resample(grid, per);
  const levels = d3.range(-2.35 * maxVal, 1.35 * maxVal, maxVal / 30);
  const contours = d3.contours().size([size, size]).thresholds(levels).smooth(true)(values);
  const path = d3.geoPath();
  const unit = (size - 1) / 2;
  const g = svg.append("g").attr("transform", `translate(${cx},${cy})`);

  // ears and nose sit behind the scalp
  const headLine = d3.line().x(d => d[0] * headRadius).y(d => -d[1] * headRadius).curve(d3.curveCardinal.tension(.2));
  g.append("path")
    .attr("d", headLine([[-.165,.985],[-.09,1.12],[0,1.18],[.09,1.12],[.165,.985]]))
    .attr("fill", "none").attr("stroke", "#333").attr("stroke-width", 1.1);
  [-1, 1].forEach(side => {
    g.append("ellipse")
      .attr("cx", side * 1.03 * headRadius).attr("cy", .155 * headRadius)
      .attr("rx", .045 * headRadius).attr("ry", .19 * headRadius)
      .attr("fill", "none").attr("stroke", "#444").attr("stroke-width", 1.1);
  });

  const clipId = `scalp${clipCount++}`;
  g.append("clipPath").attr("id", clipId)
    .append("circle").attr("r", headRadius);
  g.append("circle").attr("r", headRadius).attr("fill", "#fff");
  g.append("g")
    .attr("clip-path", `url(#${clipId})`)
    .append("g")
    .attr("transform", `translate(${-headRadius - .5 * headRadius / unit},${-headRadius - .5 * headRadius / unit}) scale(${headRadius / unit})`)
    .selectAll("path")
    .data(contours)
    .join("path")
    .attr("d", path)
    .attr("fill", d => color(d.value));
  g.append("circle").attr("r", headRadius).attr("fill", "none").attr("stroke", "#333").attr("stroke-width", 1.2);

  const sites = midlineSites.map(v => [0, v])
    .concat(sideSites)
    .concat(sideSites.map(s => [-s[0], s[1]]));
  g.selectAll("circle.site")
    .data(sites)
    .join("circle")
    .attr("class", "site")
    .attr("cx", d => d[0] * headRadius)
    .attr("cy", d => -d[1] * headRadius)
    .attr("r", 2.3)
    .attr("fill", "none")
    .attr("stroke", "#3a3a3a")
    .attr("stroke-opacity", .75)
    .attr("stroke-width", 1);
};

let gradCount = 0;
const drawColorBar = (shift, top, labels, maxVal) => {
  const id = `bar${gradCount++}`;
  const grad = svg.append("linearGradient").attr("id", id);
  colorStops.slice(0, -1).forEach((f, i) => {
    grad.append("stop").attr("offset", f).attr("stop-color", colorValues[i]);
  });
  const bar = d3.scaleLinear().domain([-maxVal, maxVal]).range([995 + shift, 1266 + shift]);
  svg.append("rect")
    .attr("x", bar(-maxVal)).attr("y", top)
    .attr("width", bar(maxVal) - bar(-maxVal)).attr("height", 15)
    .attr("fill", `url(#${id})`);
  addText(bar(-maxVal) - 1, top + 59, labels[0], 38);
  addText((bar(-maxVal) + bar(maxVal)) / 2, top + 59, "µV", 38);
  addText(bar(maxVal), top + 59, labels[1], 38);
};

const drawMapBlock = (shift, dy, title, maps, maxVal, labels) => {
  addText(1127 + shift, 131 + dy, title, 38);
  addText(1009 + shift, 222 + dy, "AY", 38);
  addText(1244 + shift, 222 + dy, "BX", 38);
  addText(721 + shift, 380 + dy, "Lower-Fit", 38.2, "start");
  addText(721 + shift, 650 + dy, "Higher-Fit", 38.2, "start");
  drawHead(1010 + shift, 372.5 + dy, maps[0], maxVal);
  drawHead(1244 + shift, 372.5 + dy, maps[1], maxVal);
  drawHead(1010 + shift, 643.5 + dy, maps[2], maxVal);
  drawHead(1244 + shift, 643.5 + dy, maps[3], maxVal);
  drawColorBar(shift, 821 + dy, labels, maxVal);
};

// panel A
addText(8, 50, "A", 42, "start", "bold");
drawLegend(0);
const cueX = drawErpColumn(0, cueTimes, cueSeries, cueMarkers, [0, 500, 1000, 1500, 2000], [-20, 10], [-20, -10, 0, 10]);
addText(434, 1858, "Time (ms)", 31);
arrow(cueX(0), 1837);
arrow(cueX(1700), 1837);
addText(cueX(0), 1919, "Cue Onset", 30.7);
addText(cueX(1700), 1919, "Probe Onset", 30.7);
addText(526, 1120, "CNV", 30);
addText(411, 1287, "Cue-P3", 30.5);
drawMapBlock(0, 0, "Cue-P3", [cueP3LowerAY, cueP3LowerBX, cueP3HigherAY, cueP3HigherBX], 8, ["-8", "8"]);
drawMapBlock(0, 948, "CNV", [cnvLowerAY, cnvLowerBX, cnvHigherAY, cnvHigherBX], 6, ["-6", "6"]);

// panel B
const shiftB = 1340;
addText(1428, 50, "B", 42, "start", "bold");
drawLegend(shiftB);
const probeX = drawErpColumn(shiftB, probeTimes, probeSeries, probeMarkers, [0, 300, 600, 900, 1200], [-20, 20], [-20, -10, 0, 10, 20]);
addText(1775, 1858, "Time (ms)", 31);
arrow(probeX(0), 1837);
addText(probeX(0), 1920, "Probe Onset", 30.7);
addText(1704, 410, "Probe-N2", 30.6);
addText(1762, 1597, "Probe-P3", 30.6);
drawMapBlock(shiftB, 0, "Probe-N2", [probeN2LowerAY, probeN2LowerBX, probeN2HigherAY, probeN2HigherBX], 10, ["-10", "10"]);
drawMapBlock(shiftB, 948, "Probe-P3", [probeP3LowerAY, probeP3LowerBX, probeP3HigherAY, probeP3HigherBX], 10, ["-10", "10"]);
</script>
</body>
</html>
